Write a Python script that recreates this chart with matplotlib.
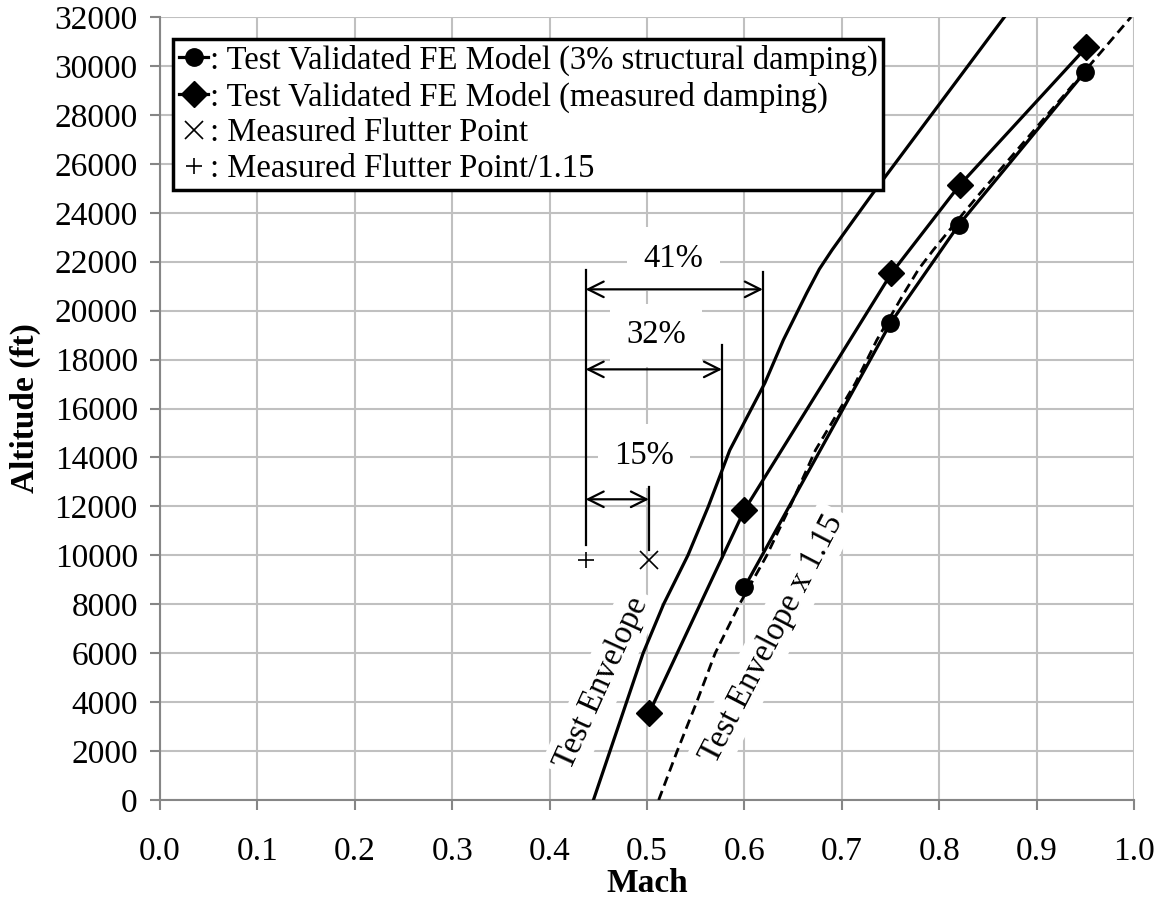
import numpy as np
import matplotlib
matplotlib.use('Agg')
import matplotlib.pyplot as plt

plt.rcParams['font.family'] = 'Liberation Serif'
plt.rcParams['font.size'] = 24

# test envelope (solid) and test envelope x 1.15 (dashed)
env_alt = [0, 2000, 4000, 6000, 8000, 10000, 12000, 14300, 17040, 18800, 20720, 21700, 22480, 23700, 24800, 32000]
env_mach = [0.445, 0.462, 0.479, 0.496, 0.517, 0.542, 0.563, 0.585, 0.621, 0.640, 0.664, 0.677, 0.690, 0.712, 0.732, 0.867]
env115_mach = [0.512, 0.531, 0.551, 0.570, 0.595, 0.623, 0.647, 0.673, 0.714, 0.736, 0.764, 0.779, 0.794, 0.819, 0.842, 0.997]

# FE model flutter boundaries
fe3_mach = [0.60, 0.75, 0.82, 0.95]
fe3_alt = [8690, 19490, 23500, 29770]
fem_mach = [0.502, 0.60, 0.751, 0.821, 0.951]
fem_alt = [3540, 11850, 21530, 25130, 30760]

# measured flutter point and /1.15
flut_mach, flut_alt = 0.502, 9810
flut115_mach = 0.437

# margin dimensions: right end mach, arrow altitude, line top/bottom, label
dim_right = [0.502, 0.577, 0.619]
dim_arrow_alt = [12290, 17600, 20870]
dim_top = [12800, 18600, 21590]
dim_bottom = [10217, 9890, 10220]
dim_labels = ['15%', '32%', '41%']
dim_label_pos = [(0.497, 14060), (0.509, 19000), (0.527, 22110)]

fig = plt.figure(figsize=(11.57, 9.14), dpi=100)
ax = fig.add_axes([0.1383, 0.1247, 0.9801 - 0.1383, 0.9814 - 0.1247])

ax.plot(env_mach, env_alt, 'k-', lw=2.3, zorder=3)
ax.plot(env115_mach, env_alt, 'k--', lw=2.0, dashes=(3.5, 2), zorder=3)
ax.plot(fe3_mach, fe3_alt, 'k-', lw=2.3, marker='o', ms=12.5, zorder=4,
        label=': Test Validated FE Model (3% structural damping)')
ax.plot(fem_mach, fem_alt, 'k-', lw=2.3, marker='D', ms=13, zorder=4,
        label=': Test Validated FE Model (measured damping)')
ax.plot(flut_mach, flut_alt, 'kx', ms=13, mew=1.2, zorder=4,
        label=': Measured Flutter Point')
ax.plot(flut115_mach, flut_alt, 'k+', ms=11, mew=1.2, zorder=4,
        label=': Measured Flutter Point/1.15')

# dimension lines
ax.plot([flut115_mach, flut115_mach], [10420, 21660], 'k-', lw=1.6, zorder=4)
for i in range(3):
    ax.plot([dim_right[i], dim_right[i]], [dim_bottom[i], dim_top[i]], 'k-', lw=1.6, zorder=4)
    ax.annotate('', xy=(dim_right[i], dim_arrow_alt[i]), xytext=(flut115_mach, dim_arrow_alt[i]),
                arrowprops=dict(arrowstyle='<->', color='k', lw=1.6, mutation_scale=28,
                                shrinkA=0, shrinkB=0), zorder=4)
    ax.text(dim_label_pos[i][0], dim_label_pos[i][1], dim_labels[i], ha='center', va='center',
            fontsize=23.5, zorder=1.5, bbox=dict(boxstyle='square,pad=0.5', fc='white', ec='none'))

ax.text(0.453, 4780, 'Test Envelope', rotation=65.5, rotation_mode='anchor',
        ha='center', va='center', fontsize=23.5, zorder=1.5,
        bbox=dict(boxstyle='square,pad=0.2', fc='white', ec='none'))
ax.text(0.628, 6600, 'Test Envelope x 1.15', rotation=62.5, rotation_mode='anchor',
        ha='center', va='center', fontsize=23.5, zorder=1.5,
        bbox=dict(boxstyle='square,pad=0.2', fc='white', ec='none'))

ax.set_xlim(0, 1.0)
ax.set_ylim(0, 32000)
ax.set_xticks(np.arange(0, 1.01, 0.1))
ax.set_xticklabels(['%.1f' % v for v in np.arange(0, 1.01, 0.1)])
ax.set_yticks(np.arange(0, 32001, 2000))
ax.set_axisbelow(True)
ax.grid(True, color='#c0c0c0', lw=1.5)
for s in ['top', 'right']:
    ax.spines[s].set_visible(False)
for s in ['left', 'bottom']:
    ax.spines[s].set_color('#868686')
    ax.spines[s].set_linewidth(1.5)
ax.tick_params(axis='both', direction='out', length=7, width=1.5, color='#868686')
ax.tick_params(axis='x', pad=19)
ax.tick_params(axis='y', pad=9)

ax.set_xlabel('Mach', fontweight='bold', labelpad=1)
ax.set_ylabel('Altitude (ft)', fontweight='bold', labelpad=10)

leg = ax.legend(loc='upper left', bbox_to_anchor=(0.0133, 0.9719), borderaxespad=0,
                fontsize=23.5, handlelength=0.9, handletextpad=0.05, labelspacing=0.16,
                borderpad=0.18, fancybox=False, framealpha=1, edgecolor='k')
leg.get_frame().set_linewidth(2.5)

plt.savefig('out.png')
plt.close()
